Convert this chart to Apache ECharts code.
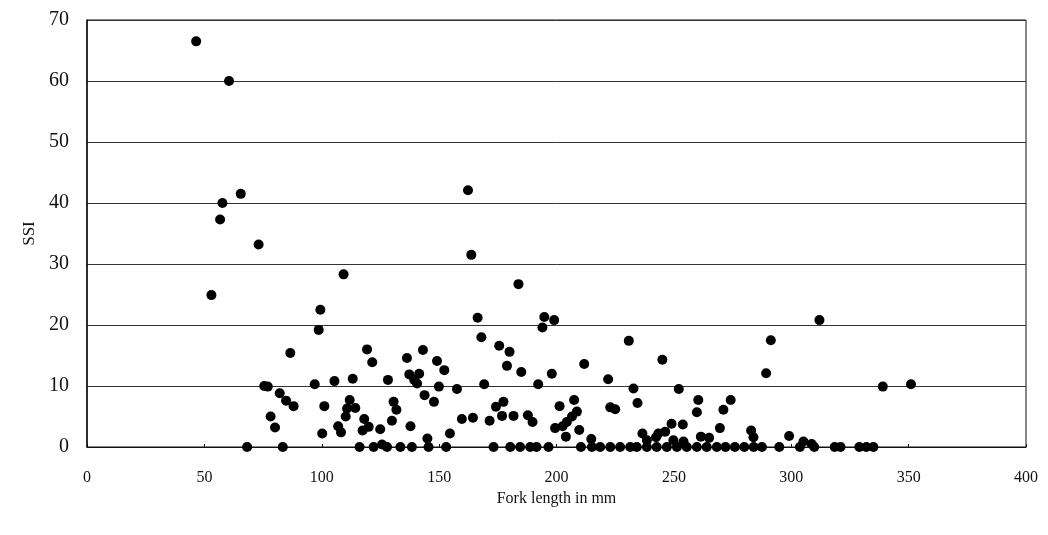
<!DOCTYPE html>
<html>
<head>
<meta charset="utf-8">
<script src="https://cdn.jsdelivr.net/npm/echarts@6/dist/echarts.min.js"></script>
<style>
  html, body { margin: 0; padding: 0; background: #fff; }
  #chart { width: 1048px; height: 535px; }
</style>
</head>
<body>
<div id="chart"></div>
<script>
// Fork length (mm) of each fish and its SSI value
const forkLength = [
  46.5, 60.5, 65.5, 57.7, 56.7, 73.1, 53.0, 109.3, 99.4, 98.7,
  86.6, 75.5, 77.0, 97.0, 105.4, 82.1, 84.8, 88.0, 101.1, 111.9,
  110.8, 110.2, 114.3, 78.2, 80.1, 100.2, 107.0, 108.2, 68.2, 83.4,
  162.3, 163.7, 183.8, 166.4, 168.0, 175.6, 180.0, 178.9, 185.0, 119.3,
  121.5, 143.1, 136.3, 149.1, 152.2, 113.2, 128.2, 137.3, 141.5, 139.4,
  140.6, 149.9, 157.6, 169.2, 192.2, 143.8, 147.8, 130.6, 131.8, 118.1,
  117.4, 120.0, 124.9, 129.9, 137.8, 145.0, 154.6, 159.7, 164.4, 171.5,
  174.2, 177.4, 176.8, 181.7, 187.8, 189.8,
  116.1, 122.1, 125.7, 127.8, 133.5, 138.4, 145.5, 153.0, 173.2, 180.3, 184.5, 188.8,
  194.8, 199.0, 194.0, 230.8, 245.1, 211.8, 198.0, 222.0, 232.8, 252.1,
  207.5, 201.3, 222.9, 225.0, 234.5, 260.4, 259.8, 271.1, 208.7, 206.6,
  204.4, 202.6, 199.4, 209.7, 204.0, 249.0, 253.8, 269.6, 236.6, 243.4,
  246.3, 242.4, 261.5, 265.0, 214.8, 238.5, 249.8, 254.1,
  191.5, 196.6, 210.4, 215.1, 218.6, 222.9, 227.1, 231.4, 234.2, 238.5,
  242.7, 247.0, 251.3, 255.5, 259.8, 264.0, 268.3,
  312.0, 291.3, 289.3, 339.0, 351.0, 274.2, 282.9, 283.9, 299.1, 305.2, 308.7,
  272.0, 276.0, 280.0, 284.0, 287.5, 294.9, 303.7, 309.8, 318.5, 321.0,
  329.0, 332.0, 335.0
];
const ssi = [
  66.5, 60.0, 41.5, 40.0, 37.3, 33.2, 24.9, 28.3, 22.5, 19.2,
  15.4, 10.0, 9.9, 10.3, 10.8, 8.8, 7.6, 6.7, 6.7, 7.7,
  6.3, 5.0, 6.4, 5.0, 3.2, 2.2, 3.4, 2.4, 0, 0,
  42.1, 31.5, 26.7, 21.2, 18.0, 16.6, 15.6, 13.3, 12.3, 16.0,
  13.9, 15.9, 14.6, 14.1, 12.6, 11.2, 11.0, 11.9, 12.0, 11.0,
  10.4, 9.9, 9.5, 10.3, 10.3, 8.5, 7.4, 7.4, 6.1, 4.6,
  2.7, 3.3, 2.9, 4.3, 3.4, 1.4, 2.2, 4.6, 4.8, 4.3,
  6.6, 7.4, 5.1, 5.1, 5.2, 4.1,
  0, 0, 0.4, 0, 0, 0, 0, 0, 0, 0, 0, 0,
  21.3, 20.8, 19.6, 17.4, 14.3, 13.6, 12.0, 11.1, 9.6, 9.5,
  7.7, 6.7, 6.5, 6.2, 7.2, 7.7, 5.7, 6.1, 5.8, 5.0,
  4.1, 3.4, 3.1, 2.8, 1.7, 3.8, 3.7, 3.1, 2.2, 2.2,
  2.5, 1.6, 1.7, 1.5, 1.3, 1.1, 1.1, 0.9,
  0, 0, 0, 0, 0, 0, 0, 0, 0, 0,
  0, 0, 0, 0, 0, 0, 0,
  20.8, 17.5, 12.1, 9.9, 10.3, 7.7, 2.7, 1.6, 1.8, 0.9, 0.5,
  0, 0, 0, 0, 0, 0, 0, 0, 0, 0,
  0, 0, 0
];
const xTicks = { min: 0, max: 400, step: 50 };
const yTicks = { min: 0, max: 70, step: 10 };

const points = forkLength.map((x, i) => [x, ssi[i]]);
const serif = '"Liberation Serif", "DejaVu Serif", serif';

const chart = echarts.init(document.getElementById('chart'), null, { renderer: 'canvas' });
chart.setOption({
  animation: false,
  backgroundColor: '#ffffff',
  grid: {
    left: 87, right: 22, top: 20, bottom: 88,
    show: true, borderColor: '#111', borderWidth: 1, backgroundColor: 'transparent'
  },
  xAxis: {
    type: 'value',
    min: xTicks.min, max: xTicks.max, interval: xTicks.step,
    name: 'Fork length in mm',
    nameLocation: 'middle',
    nameGap: 37,
    nameTextStyle: { fontFamily: serif, fontSize: 16, color: '#111' },
    axisLine: { show: true, lineStyle: { color: '#111', width: 1 } },
    axisTick: { show: true, inside: true, length: 3, lineStyle: { color: '#111' } },
    axisLabel: { fontFamily: serif, fontSize: 16, color: '#111', margin: 23 },
    splitLine: { show: false }
  },
  yAxis: {
    type: 'value',
    min: yTicks.min, max: yTicks.max, interval: yTicks.step,
    name: 'SSI',
    nameLocation: 'middle',
    nameGap: 45,
    nameRotate: 90,
    nameTextStyle: { fontFamily: serif, fontSize: 17, color: '#111' },
    axisLine: { show: true, lineStyle: { color: '#111', width: 1.5 } },
    axisTick: { show: false },
    axisLabel: { fontFamily: serif, fontSize: 20, color: '#111', margin: 18 },
    splitLine: { show: true, lineStyle: { color: '#333', width: 1 } }
  },
  series: [{
    type: 'scatter',
    data: points,
    symbol: 'circle',
    symbolSize: 10,
    itemStyle: { color: '#000', opacity: 1 }
  }]
});
</script>
</body>
</html>
